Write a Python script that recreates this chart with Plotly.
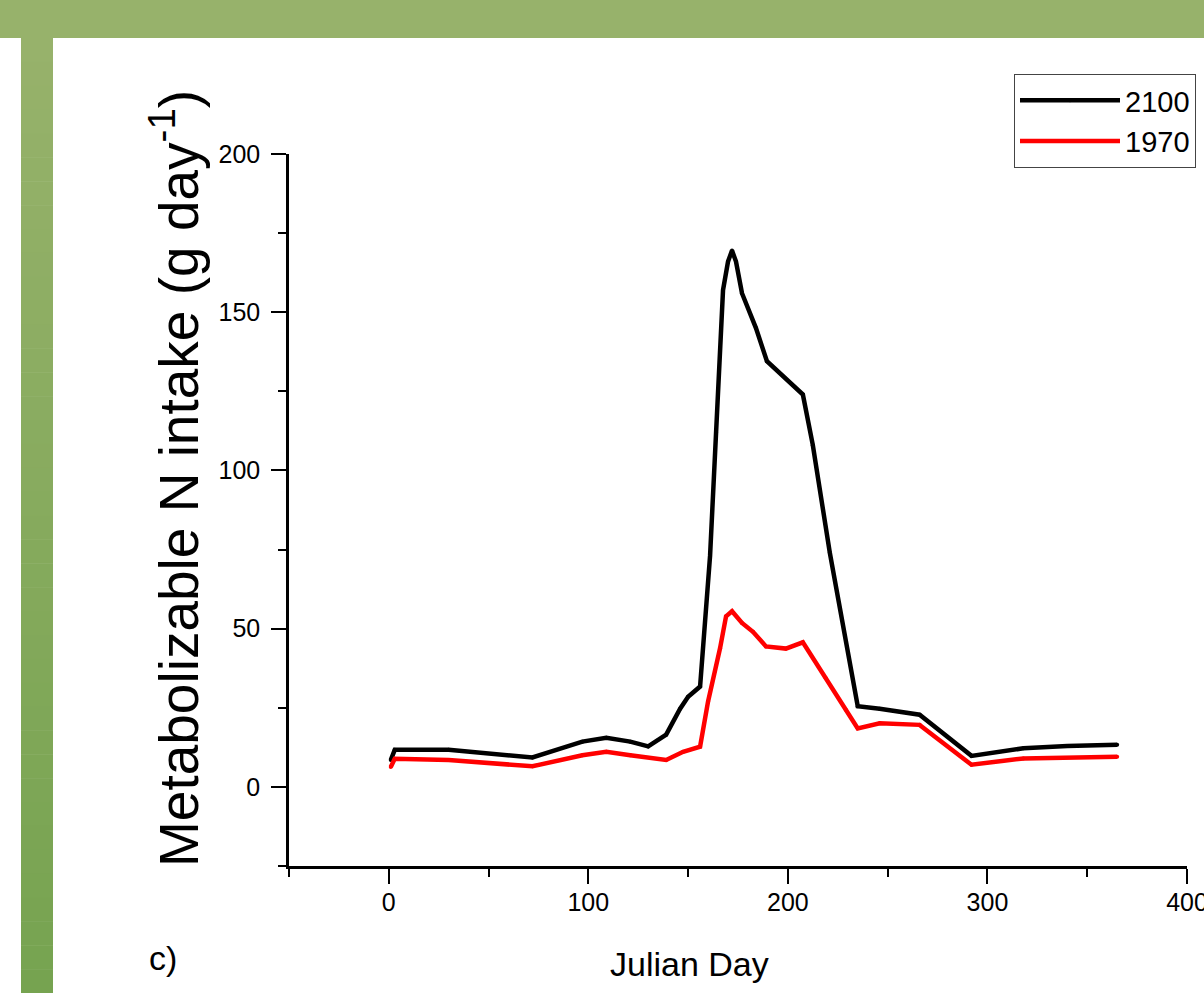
import plotly.graph_objects as go

# ---- data ----
days_2100 = [1, 3, 30, 72, 97, 109, 121, 130, 139, 146, 150, 156, 161, 164, 167.5, 170, 172,
             174, 177, 184, 189.5, 207.5, 212.5, 221, 235, 246, 266, 292, 318, 340, 365]
vals_2100 = [8.5, 11.7, 11.7, 9.3, 14.3, 15.5, 14.3, 12.8, 16.5, 24.7, 28.5, 31.7, 73, 112, 157, 166, 169.5,
             166, 156, 145, 134.5, 124, 108, 74, 25.5, 24.7, 22.8, 9.8, 12.2, 12.9, 13.3]

days_1970 = [1, 3, 30, 72, 97, 109, 121, 139, 147.5, 156, 160, 166, 169, 172, 177, 182.5, 189,
             199, 207.5, 219, 229, 235, 246, 266, 292, 318, 365]
vals_1970 = [6.3, 8.9, 8.5, 6.5, 10, 11.1, 10, 8.5, 11.1, 12.7, 27, 43.8, 53.9, 55.5, 51.8, 49, 44.4,
             43.7, 45.7, 34.3, 24.4, 18.5, 20.1, 19.6, 7, 9, 9.5]

series_names = ["2100", "1970"]
series_colors = ["#000000", "#FF0000"]

x_ticks = [0, 100, 200, 300, 400]
y_ticks = [0, 50, 100, 150, 200]

x_title = "Julian Day"
y_title = "Metabolizable N intake (g day<sup>-1</sup>)"
panel_label = "c)"

FONT = "Liberation Sans, Arial, sans-serif"
W, H = 1204, 993
L, R, T, B = 289, 17, 154, 127
PW, PH = W - L - R, H - T - B


def px_x(p):
    return (p - L) / PW


def px_y(p):
    return (H - B - p) / PH


fig = go.Figure()
for name, xs, ys, col in [(series_names[0], days_2100, vals_2100, series_colors[0]),
                          (series_names[1], days_1970, vals_1970, series_colors[1])]:
    fig.add_trace(go.Scatter(x=xs, y=ys, name=name, mode="lines+markers",
                             line=dict(color=col, width=4.5),
                             marker=dict(color=col, size=4)))

shapes = []
# green header bar
shapes.append(dict(type="rect", xref="paper", yref="paper", x0=px_x(0), x1=px_x(W),
                   y0=px_y(38), y1=px_y(0), fillcolor="#97B26B", line=dict(width=0), layer="above"))
# left bar with vertical gradient
top = (151, 178, 107)
bot = (118, 163, 80)
n = 40
y_start, y_end = 38, H
for i in range(n):
    t = (i + 0.5) / n
    c = tuple(int(round(top[k] + (bot[k] - top[k]) * t)) for k in range(3))
    ya = y_start + (y_end - y_start) * i / n
    yb = y_start + (y_end - y_start) * (i + 1) / n + 0.5
    shapes.append(dict(type="rect", xref="paper", yref="paper", x0=px_x(21), x1=px_x(53),
                       y0=px_y(yb), y1=px_y(ya), fillcolor="rgb(%d,%d,%d)" % c,
                       line=dict(width=0), layer="above"))

annotations = [
    dict(text=y_title, xref="paper", yref="paper", x=px_x(175), y=px_y(479), textangle=-90,
         showarrow=False, font=dict(family=FONT, size=55, color="black"),
         xanchor="center", yanchor="middle"),
    dict(text=x_title, xref="paper", yref="paper", x=px_x(689), y=px_y(964),
         showarrow=False, font=dict(family=FONT, size=34, color="black"),
         xanchor="center", yanchor="middle"),
    dict(text=panel_label, xref="paper", yref="paper", x=px_x(163), y=px_y(958),
         showarrow=False, font=dict(family=FONT, size=34, color="black"),
         xanchor="center", yanchor="middle"),
]

axis_common = dict(showline=True, linecolor="black", linewidth=2.5, mirror=False,
                   showgrid=False, zeroline=False, ticks="outside", ticklen=15, tickwidth=2,
                   tickcolor="black", tickfont=dict(family=FONT, size=25, color="black"),
                   ticklabeloverflow="allow")

fig.update_layout(
    width=W, height=H,
    margin=dict(l=L, r=R, t=T, b=B, autoexpand=False),
    paper_bgcolor="white", plot_bgcolor="white",
    showlegend=True,
    legend=dict(x=px_x(1014), y=px_y(74), xanchor="left", yanchor="top",
                bgcolor="white", bordercolor="#444", borderwidth=1,
                font=dict(family=FONT, size=29, color="black"),
                itemwidth=100, tracegroupgap=0),
    shapes=shapes,
    annotations=annotations,
    xaxis=dict(range=[-50, 400], tickvals=x_ticks,
               minor=dict(dtick=50, tick0=-50, ticks="outside", ticklen=8, tickwidth=2, tickcolor="black"),
               ticklabelstandoff=-3, **axis_common),
    yaxis=dict(range=[-25, 200], tickvals=y_ticks,
               minor=dict(dtick=25, tick0=-25, ticks="outside", ticklen=8, tickwidth=2, tickcolor="black"),
               ticklabelstandoff=6, **axis_common),
)

fig.write_html("out.html", config={"displayModeBar": False},
               post_script="document.body.style.margin='0px';document.body.style.overflow='hidden';")
